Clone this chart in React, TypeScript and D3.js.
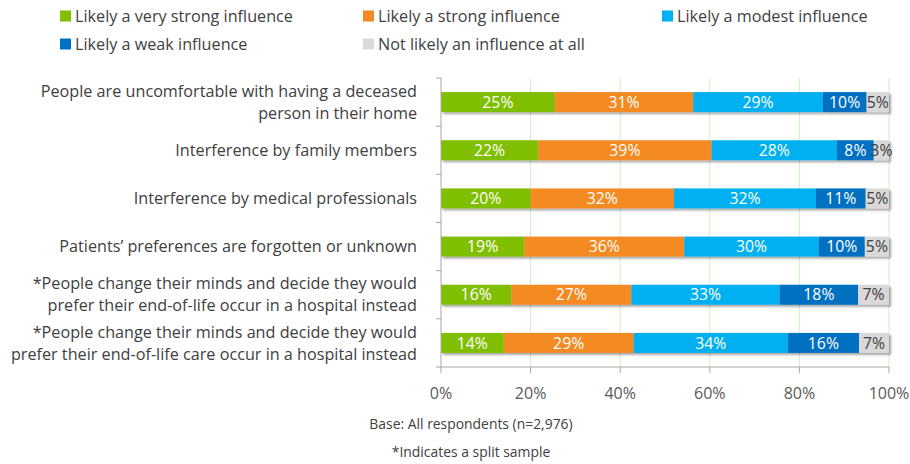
import React from "react";
import * as d3 from "d3";

const categories: string[][] = [
  ["People are uncomfortable with having a deceased", "person in their home"],
  ["Interference by family members"],
  ["Interference by medical professionals"],
  ["Patients’ preferences are forgotten or unknown"],
  ["*People change their minds and decide they would", "prefer their end-of-life occur in a hospital instead"],
  ["*People change their minds and decide they would", "prefer their end-of-life care occur in a hospital instead"],
];

const seriesNames = [
  "Likely a very strong influence",
  "Likely a strong influence",
  "Likely a modest influence",
  "Likely a weak influence",
  "Not likely an influence at all",
];

const veryStrong = [25.4, 21.7, 20.0, 18.6, 15.7, 14.0];
const strong = [30.9, 38.7, 32.0, 35.7, 26.8, 29.0];
const modest = [28.9, 28.0, 31.7, 30.0, 33.1, 34.4];
const weak = [9.8, 8.2, 11.1, 10.3, 17.5, 15.9];
const notAtAll = [5.0, 3.4, 5.2, 5.4, 6.9, 6.7];

const xTicks = [0, 20, 40, 60, 80, 100];

const colors = ["#7fbe00", "#f38a24", "#00b0f0", "#0070c0", "#d9d9d9"];
const labelColors = ["#ffffff", "#ffffff", "#ffffff", "#ffffff", "#404040"];

const FONT = "'Open Sans', 'Noto Sans', sans-serif";

export default function App() {
  const W = 910;
  const H = 464;
  const series = [veryStrong, strong, modest, weak, notAtAll];
  const rows = categories.map((c, i) => {
    const obj: any = { key: i };
    seriesNames.forEach((s, j) => (obj[s] = series[j][i]));
    return obj;
  });
  const stacked = d3.stack().keys(seriesNames)(rows);

  const x = d3.scaleLinear().domain([0, 100]).range([441, 889]);
  const y = d3
    .scaleBand<number>()
    .domain(categories.map((_, i) => i))
    .range([78, 367])
    .paddingInner(0.585)
    .paddingOuter(0.2925);
  const step = y.step();
  const top = 78;
  const bottom = 367;

  const legendItems = [
    { x: 60, y: 16 },
    { x: 363, y: 16 },
    { x: 662, y: 16 },
    { x: 60, y: 44 },
    { x: 363, y: 44 },
  ];

  return (
    <svg width={W} height={H} style={{ position: "absolute", left: 0, top: 0, background: "#fff" }}>
      <defs>
        <filter id="shadow" x="-5%" y="-30%" width="110%" height="180%">
          <feDropShadow dx="2" dy="2" stdDeviation="1.2" floodColor="#000" floodOpacity="0.35" />
        </filter>
      </defs>
      {/* legend */}
      {seriesNames.map((s, i) => (
        <g key={s}>
          <rect x={legendItems[i].x} y={legendItems[i].y - 5.5} width={11} height={11} fill={colors[i]} />
          <text
            x={legendItems[i].x + 15}
            y={legendItems[i].y}
            dy="0.35em"
            fontFamily={FONT}
            fontSize={16.2}
            fill="#404040"
          >
            {s}
          </text>
        </g>
      ))}
      {/* gridlines */}
      {xTicks.slice(1).map((t) => (
        <line key={t} x1={x(t)} x2={x(t)} y1={top} y2={bottom} stroke="#d7edbf" strokeWidth={1} />
      ))}
      {/* bars */}
      {categories.map((_, i) => (
        <g key={i} filter="url(#shadow)">
          {stacked.map((layer, j) => {
            const d = layer[i];
            return (
              <rect
                key={j}
                x={x(d[0])}
                y={y(i)}
                width={x(d[1]) - x(d[0])}
                height={y.bandwidth()}
                fill={colors[j]}
              />
            );
          })}
        </g>
      ))}
      {/* segment labels */}
      {categories.map((_, i) =>
        stacked.map((layer, j) => {
          const d = layer[i];
          return (
            <text
              key={`${i}-${j}`}
              x={(x(d[0]) + x(d[1])) / 2}
              y={(y(i) as number) + y.bandwidth() / 2}
              dy="0.36em"
              textAnchor="middle"
              fontFamily={FONT}
              fontSize={15.8}
              fill={labelColors[j]}
            >
              {Math.round(series[j][i])}%
            </text>
          );
        })
      )}
      {/* axes */}
      <line x1={441} x2={441} y1={top} y2={bottom} stroke="#a6a6a6" />
      <line x1={441} x2={889} y1={bottom} y2={bottom} stroke="#a6a6a6" />
      {d3.range(categories.length + 1).map((k) => (
        <line
          key={k}
          x1={436}
          x2={441}
          y1={top + k * step}
          y2={top + k * step}
          stroke="#a6a6a6"
        />
      ))}
      {xTicks.map((t) => (
        <g key={t}>
          <line x1={x(t)} x2={x(t)} y1={bottom} y2={bottom + 6} stroke="#a6a6a6" />
          <text
            x={x(t)}
            y={393}
            dy="0.35em"
            textAnchor="middle"
            fontFamily={FONT}
            fontSize={16}
            fill="#595959"
          >
            {t}%
          </text>
        </g>
      ))}
      {/* category labels */}
      {categories.map((lines, i) => {
        const cy = (y(i) as number) + y.bandwidth() / 2;
        const lh = 22;
        return (
          <text key={i} fontFamily={FONT} fontSize={16.2} fill="#404040">
            {lines.map((l, k) => (
              <tspan
                key={k}
                x={417}
                textAnchor="end"
                y={cy + (k - (lines.length - 1) / 2) * lh}
                dy="0.35em"
              >
                {l}
              </tspan>
            ))}
          </text>
        );
      })}
      {/* footer */}
      <text x={471} y={424} dy="0.35em" textAnchor="middle" fontFamily={FONT} fontSize={13.9} fill="#404040">
        Base: All respondents (n=2,976)
      </text>
      <text x={471} y={452} dy="0.35em" textAnchor="middle" fontFamily={FONT} fontSize={13.9} fill="#404040">
        *Indicates a split sample
      </text>
    </svg>
  );
}
